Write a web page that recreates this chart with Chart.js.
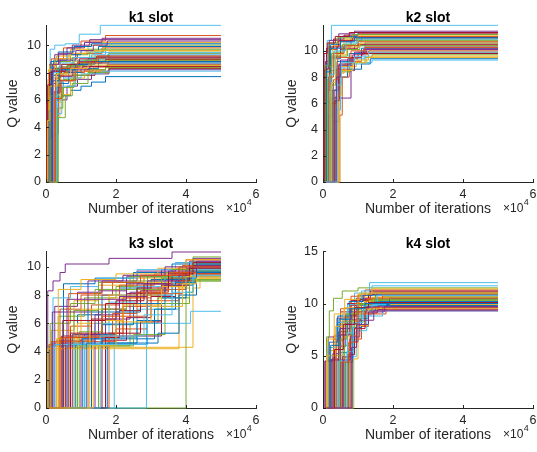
<!DOCTYPE html>
<html>
<head>
<meta charset="utf-8">
<script src="https://cdn.jsdelivr.net/npm/chart.js@4.4.1/dist/chart.umd.min.js"></script>
<style>
  html, body { margin: 0; padding: 0; background: #fff; overflow: hidden; }
  #wrap { position: relative; width: 537px; height: 452px; }
  canvas { position: absolute; }
</style>
</head>
<body>
<div id="wrap">
  <canvas id="k1" width="268" height="226" style="left:0;top:0"></canvas>
  <canvas id="k2" width="269" height="226" style="left:268px;top:0"></canvas>
  <canvas id="k3" width="268" height="226" style="left:0;top:226px"></canvas>
  <canvas id="k4" width="269" height="226" style="left:268px;top:226px"></canvas>
</div>
<script>
// x in units of 10^4 iterations, y = Q value; each run is x,q,x,q,... (stepped)
const xTicks = [0, 2, 4, 6];
const panelTitles = ['k1 slot', 'k2 slot', 'k3 slot', 'k4 slot'];

const k1Runs = [
  [0,0, 0.30,6.2, 0.45,6.3, 0.70,6.7, 1.00,7.0, 1.30,7.3, 1.70,7.7, 5,7.7],
  [0,0, 0.05,5.5, 0.12,7.8, 0.50,8.0, 1.10,8.2, 1.70,8.4, 5,8.4],
  [0,0, 0.15,7.2, 0.30,8.6, 0.80,8.9, 1.50,9.2, 5,9.2],
  [0,0, 0.22,3.5, 0.35,6.0, 0.60,7.0, 0.90,7.5, 1.30,7.9, 1.80,8.2, 5,8.2],
  [0,0, 0.35,4.7, 0.55,6.3, 0.75,7.2, 1.20,8.0, 1.80,8.6, 5,8.6],
  [0,0, 0.12,9.7, 0.25,10.0, 0.55,10.1, 0.95,10.8, 1.55,11.45, 5,11.45],
  [0,0, 0.08,6.8, 0.20,8.3, 0.60,8.5, 1.00,8.7, 1.60,8.8, 5,8.8],
  [0,0, 0.10,6.5, 0.18,8.2, 0.70,8.6, 1.20,9.0, 5,9.0],
  [0,0, 0.06,7.5, 0.15,9.0, 0.50,9.8, 1.00,10.3, 1.70,10.7, 5,10.7],
  [0,0, 0.25,5.8, 0.40,7.5, 0.80,8.8, 1.30,9.2, 1.80,9.5, 5,9.5],
  [0,0, 0.10,8.0, 0.25,9.3, 0.60,9.8, 1.10,10.2, 1.60,10.5, 5,10.5],
  [0,0, 0.30,6.2, 0.50,7.5, 0.90,8.7, 1.40,9.1, 1.80,9.4, 5,9.4],
  [0,0, 0.32,6.9, 0.50,8.1, 0.90,8.9, 1.30,9.3, 1.70,9.6, 5,9.6],
  [0,0, 0.12,4.0, 0.20,6.5, 0.40,7.4, 0.80,7.8, 1.40,8.1, 1.80,8.3, 5,8.3],
  [0,0, 0.20,6.0, 0.35,7.2, 0.65,8.0, 1.00,8.3, 1.50,8.7, 5,8.7],
  [0,0, 0.04,7.0, 0.10,8.6, 0.40,9.0, 0.90,9.4, 1.60,9.8, 5,9.8],
  [0,0, 0.18,4.8, 0.40,6.4, 0.70,7.6, 1.10,8.1, 1.70,8.5, 5,8.5],
  [0,0, 0.06,6.0, 0.20,8.0, 0.45,8.4, 0.95,8.8, 1.50,9.1, 5,9.1],
  [0,0, 0.16,7.6, 0.30,8.8, 0.70,9.3, 1.20,9.7, 1.70,10.0, 5,10.0],
  [0,0, 0.28,5.0, 0.45,7.0, 0.85,8.5, 1.30,9.0, 1.75,9.3, 5,9.3],
  [0,0, 0.14,7.2, 0.30,8.1, 0.70,8.6, 1.30,8.8, 1.70,8.95, 5,8.95],
  [0,0, 0.08,7.9, 0.22,8.9, 0.60,9.3, 1.00,9.6, 1.50,9.9, 5,9.9],
  [0,0, 0.24,6.6, 0.40,7.8, 0.80,8.4, 1.30,8.7, 1.80,8.9, 5,8.9],
  [0,0, 0.10,8.5, 0.30,9.2, 0.70,9.7, 1.20,10.0, 1.60,10.2, 5,10.2],
  [0,0, 0.03,3.2, 0.15,6.6, 0.35,7.7, 0.75,8.2, 1.25,8.45, 1.75,8.6, 5,8.6],
  [0,0, 0.20,7.0, 0.35,8.4, 0.75,9.1, 1.25,9.5, 1.65,9.7, 5,9.7],
  [0,0, 0.30,7.3, 0.50,7.6, 1.00,7.9, 1.60,8.1, 5,8.1],
  [0,0, 0.02,5.8, 0.10,8.0, 0.45,8.6, 0.95,9.0, 1.45,9.2, 5,9.2],
  [0,0, 0.14,8.8, 0.35,9.5, 0.80,9.9, 1.30,10.1, 5,10.1],
  [0,0, 0.26,6.1, 0.45,7.4, 0.85,8.1, 1.35,8.4, 5,8.4],
  [0,0, 0.07,8.2, 0.25,9.0, 0.65,9.4, 1.15,9.6, 5,9.6],
  [0,0, 0.18,7.8, 0.40,8.9, 0.85,9.6, 1.35,10.0, 1.75,10.3, 5,10.3],
  [0,0, 0.12,6.3, 0.28,7.9, 0.60,8.5, 1.10,8.9, 5,8.9],
  [0,0, 0.22,8.0, 0.40,8.7, 0.80,9.1, 1.40,9.45, 5,9.45],
  [0,0, 0.05,7.1, 0.16,8.1, 0.55,8.3, 1.05,8.45, 5,8.45],
  [0,0, 0.09,5.2, 0.17,7.4, 0.38,8.2, 0.85,8.6, 1.40,8.8, 5,8.8],
  [0,0, 0.27,7.6, 0.42,8.3, 0.90,8.75, 1.45,9.05, 5,9.05],
  [0,0, 0.04,4.5, 0.11,7.0, 0.30,7.9, 0.70,8.3, 1.20,8.55, 5,8.55],
  [0,0, 0.19,8.6, 0.36,9.4, 0.75,10.0, 1.25,10.4, 5,10.4],
  [0,0, 0.33,5.4, 0.48,6.9, 0.80,7.8, 1.25,8.2, 1.70,8.35, 5,8.35]
];

const k2Runs = [
  [0,0, 0.30,4.6, 0.45,8.0, 0.70,8.6, 1.10,9.0, 1.35,9.4, 5,9.4],
  [0,0, 0.48,5.1, 0.55,8.0, 0.75,9.2, 1.10,9.7, 1.30,10.0, 5,10.0],
  [0,0, 0.48,8.3, 0.60,9.0, 0.90,9.8, 1.20,10.4, 5,10.4],
  [0,0, 0.10,7.3, 0.20,9.5, 0.40,10.3, 0.80,10.8, 1.10,11.0, 5,11.0],
  [0,0, 0.35,6.5, 0.50,8.4, 0.80,9.1, 1.20,9.5, 1.40,9.7, 5,9.7],
  [0,0, 0.12,10.8, 0.24,11.95, 5,11.95],
  [0,0, 0.05,6.4, 0.10,10.2, 0.30,10.9, 0.60,11.2, 1.00,11.3, 5,11.3],
  [0,0, 0.15,5.0, 0.25,9.4, 0.50,10.1, 0.90,10.4, 1.20,10.6, 5,10.6],
  [0,0, 0.08,8.0, 0.18,10.1, 0.40,10.7, 0.80,11.1, 5,11.1],
  [0,0, 0.40,7.3, 0.50,8.8, 0.95,9.3, 1.30,9.6, 5,9.6],
  [0,0, 0.20,6.4, 0.80,8.5, 0.90,9.8, 1.20,10.3, 5,10.3],
  [0,0, 0.18,8.5, 0.30,9.9, 0.60,10.4, 1.00,10.8, 5,10.8],
  [0,0, 0.28,7.6, 0.40,8.9, 0.80,9.4, 1.20,9.8, 5,9.8],
  [0,0, 0.02,4.0, 0.06,7.0, 0.20,9.6, 0.50,10.2, 1.00,10.5, 5,10.5],
  [0,0, 0.10,9.0, 0.22,10.5, 0.50,11.1, 1.00,11.4, 5,11.4],
  [0,0, 0.25,6.0, 0.38,8.6, 0.70,9.4, 1.00,9.9, 5,9.9],
  [0,0, 0.14,8.8, 0.28,10.4, 0.60,10.9, 1.00,11.2, 5,11.2],
  [0,0, 0.32,7.0, 0.45,8.9, 0.85,9.7, 1.15,10.1, 5,10.1],
  [0,0, 0.12,7.8, 0.24,9.8, 0.55,10.5, 0.95,10.9, 5,10.9],
  [0,0, 0.36,5.5, 0.50,8.7, 0.75,9.0, 1.10,9.1, 1.40,9.3, 5,9.3],
  [0,0, 0.04,8.6, 0.15,10.3, 0.45,10.8, 0.85,11.0, 5,11.0],
  [0,0, 0.26,7.0, 0.40,9.2, 0.75,9.8, 1.10,10.2, 5,10.2],
  [0,0, 0.16,8.0, 0.30,9.8, 0.60,10.4, 1.00,10.7, 5,10.7],
  [0,0, 0.44,6.6, 0.52,8.5, 0.85,9.1, 1.25,9.5, 5,9.5],
  [0,0, 0.07,9.2, 0.18,10.8, 0.45,11.3, 0.90,11.5, 5,11.5],
  [0,0, 0.22,7.4, 0.36,9.6, 0.70,10.1, 1.05,10.4, 5,10.4],
  [0,0, 0.20,8.2, 0.32,10.0, 0.65,10.6, 1.00,10.9, 5,10.9],
  [0,0, 0.34,6.2, 0.46,9.0, 0.80,9.5, 1.10,9.8, 5,9.8],
  [0,0, 0.09,8.4, 0.20,10.2, 0.50,10.7, 0.90,11.0, 5,11.0],
  [0,0, 0.30,7.8, 0.42,9.5, 0.80,10.0, 1.20,10.25, 5,10.25],
  [0,0, 0.24,7.6, 0.36,9.7, 0.68,10.3, 1.05,10.6, 5,10.6],
  [0,0, 0.38,8.0, 0.50,9.3, 0.90,9.9, 1.25,10.15, 5,10.15],
  [0,0, 0.06,8.9, 0.16,10.6, 0.42,11.0, 0.85,11.25, 5,11.25],
  [0,0, 0.42,7.4, 0.52,9.1, 0.90,9.55, 1.30,9.9, 5,9.9],
  [0,0, 0.03,9.8, 0.12,10.6, 0.35,11.1, 0.75,11.4, 5,11.4]
];

const k3Runs = [
  [0,0, 0.10,4.4, 0.90,6.6, 1.60,8.0, 2.60,8.8, 3.50,9.3, 4.20,9.6, 5,9.6],
  [0,0, 0.30,4.8, 1.40,5.0, 2.20,7.2, 3.20,8.4, 4.00,9.5, 5,9.5],
  [0,0, 0.55,4.3, 4.20,8.5, 4.40,9.2, 5,9.2],
  [0,0, 0.05,8.3, 0.20,9.0, 0.40,9.6, 0.55,10.2, 1.80,10.6, 3.60,11.05, 5,11.05],
  [0,0, 4.00,8.2, 4.20,9.0, 5,9.0],
  [0,0, 1.95,5.0, 2.60,7.0, 3.80,8.8, 4.30,9.4, 5,9.4],
  [0,0, 0.20,4.6, 1.10,5.2, 1.60,7.0, 2.30,8.1, 3.30,9.2, 4.10,9.9, 5,9.9],
  [0,0, 0.65,5.0, 1.20,6.8, 2.10,8.5, 3.00,9.1, 4.00,9.8, 5,9.8],
  [0,0, 0.40,7.0, 1.00,8.0, 1.90,8.9, 2.80,9.4, 3.90,10.1, 5,10.1],
  [0,0, 0.15,5.5, 0.80,7.6, 1.50,8.7, 2.50,9.2, 3.70,9.9, 5,9.9],
  [0,0, 1.00,4.9, 1.70,6.3, 2.40,8.2, 3.40,9.0, 4.10,10.4, 5,10.4],
  [0,0, 0.35,6.5, 1.10,7.8, 2.00,8.6, 2.90,9.3, 4.20,10.0, 5,10.0],
  [0,0, 2.87,8.8, 3.50,9.2, 4.30,9.7, 5,9.7],
  [0,0, 0.45,5.1, 3.30,8.6, 4.00,9.6, 5,9.6],
  [0,0, 1.30,5.2, 2.00,6.8, 2.70,8.0, 3.60,9.1, 4.30,9.8, 5,9.8],
  [0,0, 0.08,4.5, 0.70,5.8, 1.30,7.3, 2.10,8.7, 3.10,9.5, 4.00,10.5, 5,10.5],
  [0,0, 0.90,6.0, 1.80,7.8, 2.80,8.9, 3.80,9.7, 5,9.7],
  [0,0, 0.25,7.2, 0.90,8.2, 1.60,9.0, 2.60,9.7, 3.70,10.3, 5,10.3],
  [0,0, 1.50,4.4, 2.40,6.0, 3.20,7.8, 4.10,9.1, 5,9.1],
  [0,0, 0.60,4.6, 1.40,6.0, 4.13,6.85, 5,6.85],
  [0,0, 1.70,5.0, 2.10,6.9, 2.70,8.3, 3.50,9.2, 4.20,10.1, 5,10.1],
  [0,0, 0.50,8.8, 1.40,9.2, 2.50,9.6, 3.60,10.2, 5,10.2],
  [0,0, 1.20,4.7, 2.00,5.6, 2.90,7.6, 3.80,9.0, 4.30,9.9, 5,9.9],
  [0,0, 0.30,4.9, 1.00,7.0, 1.80,8.0, 3.20,8.6, 3.90,9.4, 5,9.4],
  [0,0, 0.75,5.2, 1.50,8.3, 2.30,9.3, 3.30,9.8, 4.20,10.6, 5,10.6],
  [0,0, 0.12,6.0, 0.70,7.4, 1.40,8.4, 2.40,9.0, 3.40,9.6, 4.20,10.2, 5,10.2],
  [0,0, 1.10,5.1, 1.80,7.5, 2.60,8.6, 3.40,9.3, 4.10,9.9, 5,9.9],
  [0,0, 1.60,4.8, 2.30,6.4, 3.00,7.9, 3.70,9.0, 4.30,9.5, 5,9.5],
  [0,0, 0.85,4.5, 1.60,5.9, 2.50,7.4, 3.40,8.7, 4.20,9.3, 5,9.3],
  [0,0, 1.80,5.3, 2.20,7.8, 3.00,8.8, 3.90,9.6, 5,9.6],
  [0,0, 0.05,4.2, 3.80,8.5, 4.10,9.8, 5,9.8],
  [0,0, 1.40,6.6, 2.10,7.9, 2.90,9.0, 3.80,9.9, 4.30,10.4, 5,10.4],
  [0,0, 0.95,5.4, 1.60,7.0, 2.30,8.4, 3.30,9.2, 4.00,9.7, 5,9.7],
  [0,0, 0.20,7.8, 0.70,8.6, 1.50,9.2, 2.60,9.8, 3.70,10.3, 5,10.3],
  [0,0, 0.55,5.0, 1.30,6.3, 2.00,7.6, 2.80,8.8, 3.60,9.4, 4.10,10.0, 5,10.0],
  [0,0, 1.75,4.6, 2.60,6.2, 3.30,7.8, 4.00,9.2, 4.30,9.7, 5,9.7],
  [0,0, 0.15,4.7, 1.20,5.1, 1.90,6.7, 2.60,8.2, 3.50,9.6, 4.30,10.0, 5,10.0],
  [0,0, 0.35,8.4, 1.00,9.1, 2.00,9.5, 3.20,9.9, 4.00,10.5, 5,10.5],
  [0,0, 0.60,7.7, 1.20,9.0, 2.20,9.4, 3.40,10.0, 5,10.0],
  [0,0, 0.80,6.9, 1.50,8.9, 2.40,9.3, 3.60,9.8, 4.20,10.7, 5,10.7],
  [0,0, 0.25,4.5, 2.90,7.2, 3.60,8.9, 4.20,9.8, 5,9.8],
  [0,0, 0.70,5.3, 2.70,6.1, 3.30,8.7, 4.10,9.9, 5,9.9],
  [0,0, 1.05,4.9, 3.10,7.0, 3.70,8.9, 4.30,10.2, 5,10.2],
  [0,0, 0.40,5.0, 1.60,6.5, 2.90,8.1, 3.90,9.5, 5,9.5],
  [0,0, 1.25,6.2, 2.20,7.3, 3.30,8.6, 4.00,9.3, 5,9.3],
  [0,0, 0.18,6.8, 1.20,7.7, 2.30,8.8, 3.50,9.7, 4.30,10.1, 5,10.1],
  [0,0, 0.90,4.4, 2.50,5.2, 3.40,7.4, 4.10,9.0, 5,9.0],
  [0,0, 1.55,5.1, 2.80,6.6, 3.60,8.2, 4.20,9.4, 5,9.4],
  [0,0, 0.48,6.2, 1.70,7.4, 2.60,8.5, 3.50,9.5, 4.20,10.3, 5,10.3],
  [0,0, 1.15,4.6, 3.20,5.3, 3.80,8.0, 4.30,9.6, 5,9.6],
  [0,0, 0.65,8.1, 1.60,8.9, 2.70,9.4, 3.80,10.0, 5,10.0],
  [0,0, 1.35,4.4, 2.00,6.1, 3.00,7.2, 3.90,8.8, 4.30,9.2, 5,9.2]
];

const k4Runs = [
  [0,0, 0.40,4.6, 0.60,7.0, 0.90,8.8, 1.30,9.4, 1.70,9.6, 5,9.6],
  [0,0, 0.60,4.8, 0.75,6.6, 1.10,7.8, 1.30,9.0, 1.80,9.8, 5,9.8],
  [0,0, 0.20,5.5, 0.40,8.0, 0.70,9.4, 1.10,10.6, 1.50,11.0, 5,11.0],
  [0,0, 0.05,4.5, 0.15,6.8, 0.40,8.6, 0.80,9.8, 1.20,10.4, 5,10.4],
  [0,0, 0.10,6.8, 0.18,9.3, 0.30,10.5, 0.55,11.2, 1.00,11.5, 5,11.5],
  [0,0, 0.30,6.0, 0.55,9.0, 0.90,11.0, 1.33,12.0, 5,12.0],
  [0,0, 0.25,4.7, 0.45,7.3, 0.70,10.0, 1.00,10.8, 1.40,11.1, 5,11.1],
  [0,0, 0.50,5.3, 0.70,8.1, 1.00,9.6, 1.40,10.2, 5,10.2],
  [0,0, 0.15,4.6, 0.35,7.0, 0.65,9.0, 1.00,10.0, 1.50,10.6, 5,10.6],
  [0,0, 0.70,6.2, 0.85,8.3, 1.20,9.4, 1.60,9.9, 5,9.9],
  [0,0, 0.45,5.9, 0.65,8.8, 0.95,10.5, 1.30,10.9, 5,10.9],
  [0,0, 0.35,5.0, 0.55,8.3, 0.85,9.6, 1.20,10.3, 1.70,10.7, 5,10.7],
  [0,0, 0.80,4.9, 0.95,7.4, 1.25,8.8, 1.70,9.3, 5,9.3],
  [0,0, 0.08,4.5, 0.30,6.6, 0.50,9.2, 0.80,10.3, 1.30,10.9, 5,10.9],
  [0,0, 0.65,4.4, 0.85,7.7, 1.10,9.3, 1.50,9.8, 5,9.8],
  [0,0, 0.30,6.9, 0.50,9.5, 0.80,10.7, 1.20,11.3, 5,11.3],
  [0,0, 0.55,6.8, 0.75,9.1, 1.05,10.2, 1.45,10.6, 5,10.6],
  [0,0, 0.20,4.6, 0.50,7.0, 0.75,8.5, 1.10,9.6, 1.60,10.0, 5,10.0],
  [0,0, 0.75,5.6, 0.90,8.0, 1.20,9.7, 1.60,10.3, 5,10.3],
  [0,0, 0.12,5.8, 0.40,8.2, 0.70,9.9, 1.10,11.2, 1.40,11.7, 5,11.7],
  [0,0, 0.55,4.9, 0.80,8.9, 1.00,10.4, 1.35,11.2, 5,11.2],
  [0,0, 0.85,6.4, 1.00,8.6, 1.30,9.9, 1.90,10.5, 5,10.5],
  [0,0, 0.38,6.5, 0.60,8.7, 0.90,10.0, 1.30,10.5, 5,10.5],
  [0,0, 0.88,4.7, 1.00,7.9, 1.30,9.5, 5,9.5],
  [0,0, 0.28,5.2, 0.48,7.6, 0.80,9.2, 1.25,9.7, 5,9.7],
  [0,0, 0.62,6.0, 0.80,8.4, 1.10,10.0, 1.50,11.0, 5,11.0],
  [0,0, 0.45,4.5, 0.70,7.2, 1.00,8.9, 1.40,9.9, 1.80,10.1, 5,10.1],
  [0,0, 0.72,5.1, 0.90,7.6, 1.20,9.1, 1.55,9.4, 5,9.4],
  [0,0, 0.18,6.3, 0.42,8.8, 0.75,10.2, 1.15,10.8, 5,10.8],
  [0,0, 0.78,6.9, 0.95,9.2, 1.25,10.4, 1.70,10.9, 5,10.9],
  [0,0, 0.10,5.0, 0.35,7.8, 0.60,9.6, 1.00,10.9, 1.40,11.4, 5,11.4],
  [0,0, 0.58,4.6, 0.78,6.8, 1.05,8.4, 1.45,9.3, 5,9.3],
  [0,0, 0.48,6.6, 0.68,9.0, 1.00,9.9, 1.40,10.4, 5,10.4],
  [0,0, 0.68,5.4, 0.86,8.2, 1.15,9.8, 1.55,10.8, 5,10.8],
  [0,0, 0.33,5.6, 0.58,8.0, 0.90,9.6, 1.30,10.1, 5,10.1],
  [0,0, 0.22,6.0, 0.46,8.5, 0.78,9.5, 1.20,10.0, 5,10.0],
  [0,0, 0.52,4.4, 0.74,6.3, 1.00,9.0, 1.40,9.6, 5,9.6],
  [0,0, 0.14,6.6, 0.32,9.0, 0.62,10.4, 1.05,11.0, 5,11.0],
  [0,0, 0.82,5.8, 0.96,8.0, 1.30,9.2, 1.75,9.7, 5,9.7]
];

// MATLAB default colour order
const lineColors = ['#0072BD', '#D95319', '#EDB120', '#7E2F8E', '#77AC30', '#4DBEEE', '#A2142F'];
const axisColor = '#262626';
const fontFamily = '"Liberation Sans", Arial, Helvetica, sans-serif';

function toPoints(run) {
    let pts = [];
    for (let i = 0; i < run.length; i += 2) {
        pts.push({x: run[i], y: run[i + 1]});
    }
    return pts;
}

// x10^4 multiplier and inward tick marks, like MATLAB
const matlabAxes = {
    id: 'matlabAxes',
    afterDraw(chart) {
        const ctx = chart.ctx;
        const area = chart.chartArea;
        const xs = chart.scales.x;
        const ys = chart.scales.y;
        ctx.save();
        ctx.strokeStyle = axisColor;
        ctx.lineWidth = 1;
        ctx.beginPath();
        xs.ticks.forEach(t => {
            const px = Math.round(xs.getPixelForValue(t.value)) + 0.5;
            ctx.moveTo(px, area.bottom);
            ctx.lineTo(px, area.bottom - 3);
        });
        ys.ticks.forEach(t => {
            const py = Math.round(ys.getPixelForValue(t.value)) + 0.5;
            ctx.moveTo(area.left, py);
            ctx.lineTo(area.left + 3, py);
        });
        ctx.stroke();

        ctx.fillStyle = axisColor;
        ctx.textAlign = 'left';
        ctx.textBaseline = 'alphabetic';
        ctx.font = '12px ' + fontFamily;
        const x0 = area.right - 30;
        const y0 = area.bottom + 30;
        ctx.fillText('\u00d710', x0, y0);
        const w = ctx.measureText('\u00d710').width;
        ctx.font = '9px ' + fontFamily;
        ctx.fillText('4', x0 + w + 0.5, y0 - 7);
        ctx.restore();
    }
};

function makePanel(id, title, runs, yMax, yStep, yWidth, yTitlePad, rightPad) {
    let datasets = runs.map((run, i) => ({
        data: toPoints(run),
        borderColor: lineColors[i % lineColors.length],
        borderWidth: 1,
        pointRadius: 0,
        stepped: 'before',
        fill: false,
        clip: 1,
        order: -i
    }));

    return new Chart(document.getElementById(id), {
        type: 'line',
        data: {datasets: datasets},
        plugins: [matlabAxes],
        options: {
            responsive: false,
            animation: false,
            devicePixelRatio: 1,
            events: [],
            layout: {padding: {left: 0, right: rightPad, top: 0, bottom: 0}},
            plugins: {
                legend: {display: false},
                tooltip: {enabled: false},
                title: {
                    display: true,
                    text: title,
                    fullSize: false,
                    color: '#000',
                    font: {family: fontFamily, size: 14, weight: 'bold'},
                    padding: {top: 10, bottom: -1.5}
                }
            },
            scales: {
                x: {
                    type: 'linear',
                    min: 0,
                    max: 6,
                    grid: {display: false, drawTicks: false},
                    border: {display: true, color: axisColor, width: 1},
                    afterBuildTicks: (scale) => { scale.ticks = xTicks.map(v => ({value: v})); },
                    afterFit: (scale) => {
                        scale.height = 44;
                        scale.paddingLeft = 0;
                        scale.paddingRight = 0;
                    },
                    ticks: {
                        color: axisColor,
                        font: {family: fontFamily, size: 12.5},
                        padding: 5,
                        maxRotation: 0,
                        autoSkip: false
                    },
                    title: {
                        display: true,
                        text: 'Number of iterations',
                        color: axisColor,
                        font: {family: fontFamily, size: 14},
                        padding: {top: 0, bottom: 8}
                    }
                },
                y: {
                    min: 0,
                    max: yMax,
                    grid: {display: false, drawTicks: false},
                    border: {display: true, color: axisColor, width: 1},
                    afterFit: (scale) => {
                        scale.width = yWidth;
                        scale.paddingTop = 0;
                        scale.paddingBottom = 0;
                    },
                    ticks: {
                        stepSize: yStep,
                        includeBounds: false,
                        color: axisColor,
                        font: {family: fontFamily, size: 12.5},
                        padding: 5
                    },
                    title: {
                        display: true,
                        text: 'Q value',
                        color: axisColor,
                        font: {family: fontFamily, size: 14},
                        padding: {top: yTitlePad, bottom: 0}
                    }
                }
            }
        }
    });
}

makePanel('k1', panelTitles[0], k1Runs, 11.45, 2, 46, 5, 12);
makePanel('k2', panelTitles[1], k2Runs, 11.95, 2, 55, 16, 4);
makePanel('k3', panelTitles[2], k3Runs, 11.1, 2, 46, 5, 12);
makePanel('k4', panelTitles[3], k4Runs, 15, 5, 55, 16, 4);
</script>
</body>
</html>
